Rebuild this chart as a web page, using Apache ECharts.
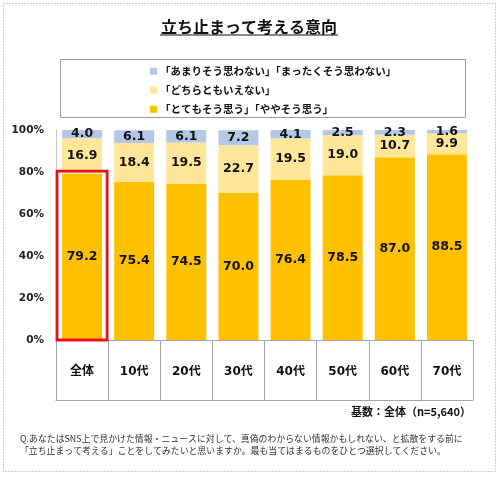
<!DOCTYPE html>
<html><head><meta charset="utf-8">
<script src="https://cdn.jsdelivr.net/npm/echarts@6/dist/echarts.min.js"></script>
<style>html,body{margin:0;padding:0;background:#fff}#c{width:500px;height:477px}</style>
</head><body><div id="c"></div>
<script>
const categories = ['全体','10代','20代','30代','40代','50代','60代','70代'];
const agree = [79.2,75.4,74.5,70.0,76.4,78.5,87.0,88.5];
const neutral = [16.9,18.4,19.5,22.7,19.5,19.0,10.7,9.9];
const disagree = [4.0,6.1,6.1,7.2,4.1,2.5,2.3,1.6];
const seriesNames = ['「とてもそう思う」「ややそう思う」','「どちらともいえない」','「あまりそう思わない」「まったくそう思わない」'];
const highlightIndex = 0;

const FONT = '"Noto Sans CJK JP", "Noto Sans", sans-serif';
const NUMFONT = '"DejaVu Sans", "Noto Sans CJK JP", sans-serif';
const chart = echarts.init(document.getElementById('c'), null, {renderer:'canvas'});
const lbl = {show:true, position:'inside', color:'#111', fontWeight:'bold', fontSize:12.5, fontFamily:NUMFONT, formatter: p => p.value.toFixed(1)};
function bar(name, data, color){
  return {name, type:'bar', stack:'s', data, barWidth:40, itemStyle:{color}, label:lbl, emphasis:{disabled:true}};
}
chart.setOption({
  animation:false,
  textStyle:{fontFamily:FONT},
  grid:{left:56, right:27, top:130, bottom:137},
  legend:{
    orient:'vertical', left:145, top:61, itemWidth:7, itemHeight:7, itemGap:8.5,
    icon:'rect', selectedMode:false,
    data:[seriesNames[2], seriesNames[1], seriesNames[0]],
    textStyle:{fontSize:10.5, fontWeight:'bold', color:'#111', fontFamily:FONT, padding:[0,0,0,-2]}
  },
  xAxis:[{
    type:'category', data:categories,
    axisLine:{lineStyle:{color:'#a6a6a6', width:1}},
    axisTick:{show:true, interval:0, length:60, lineStyle:{color:'#a6a6a6'}},
    axisLabel:{interval:0, margin:26, fontSize:12, fontWeight:'bold', color:'#111', fontFamily:NUMFONT}
  },{
    type:'category', data:categories, position:'bottom', offset:60,
    axisLine:{show:true, lineStyle:{color:'#a6a6a6', width:1}},
    axisTick:{show:false}, axisLabel:{show:false}
  }],
  yAxis:{
    type:'value', min:0, max:100, interval:20,
    axisLine:{show:true, lineStyle:{color:'#c8c8c8'}},
    axisTick:{show:false}, splitLine:{show:false},
    axisLabel:{formatter:'{value}%', fontSize:10.5, fontWeight:'bold', color:'#222', margin:12, fontFamily:NUMFONT}
  },
  series:[
    bar(seriesNames[0], agree, '#FFC000'),
    bar(seriesNames[1], neutral, '#FFE699'),
    bar(seriesNames[2], disagree, '#B4C7E7'),
    {
      type:'custom', name:'box', silent:true, z:10,
      data:[[highlightIndex, agree[highlightIndex]]],
      renderItem:(params, api) => {
        const top = api.coord([api.value(0), api.value(1)]);
        const base = api.coord([api.value(0), 0]);
        const w = api.size([1,0])[0];
        return {type:'rect', shape:{x:top[0]-w/2+1, y:top[1]-2.5, width:w-2, height:base[1]-top[1]+2.5},
          style:{fill:null, stroke:'#e8141b', lineWidth:2.8}};
      }
    }
  ],
  graphic:[
    {type:'rect', shape:{x:3.5, y:3.5, width:492, height:468}, style:{fill:null, stroke:'#999', lineWidth:1, lineDash:[1,2]}, silent:true, z:-1},
    {type:'text', x:249, y:27, style:{text:'立ち止まって考える意向', fontSize:16, fontWeight:'bold', fill:'#111', align:'center', verticalAlign:'middle', fontFamily:FONT}},
    {type:'line', shape:{x1:160, y1:35, x2:338, y2:35}, style:{stroke:'#111', lineWidth:1.2}},
    {type:'rect', shape:{x:60.5, y:59.5, width:405, height:58}, style:{fill:null, stroke:'#999', lineWidth:1}, z:-1},
    {type:'text', x:471, y:412, style:{text:'基数：全体（n=5,640）', fontSize:11, fontWeight:'bold', fill:'#111', align:'right', verticalAlign:'middle', fontFamily:FONT}},
    {type:'text', x:20, y:439, style:{text:'Q.あなたはSNS上で見かけた情報・ニュースに対して、真偽のわからない情報かもしれない、と拡散をする前に', fontSize:8.9, fill:'#333', align:'left', verticalAlign:'middle', fontFamily:FONT}},
    {type:'text', x:20, y:451, style:{text:'「立ち止まって考える」ことをしてみたいと思いますか。最も当てはまるものをひとつ選択してください。', fontSize:8.9, fill:'#333', align:'left', verticalAlign:'middle', fontFamily:FONT}}
  ]
});
</script></body></html>
